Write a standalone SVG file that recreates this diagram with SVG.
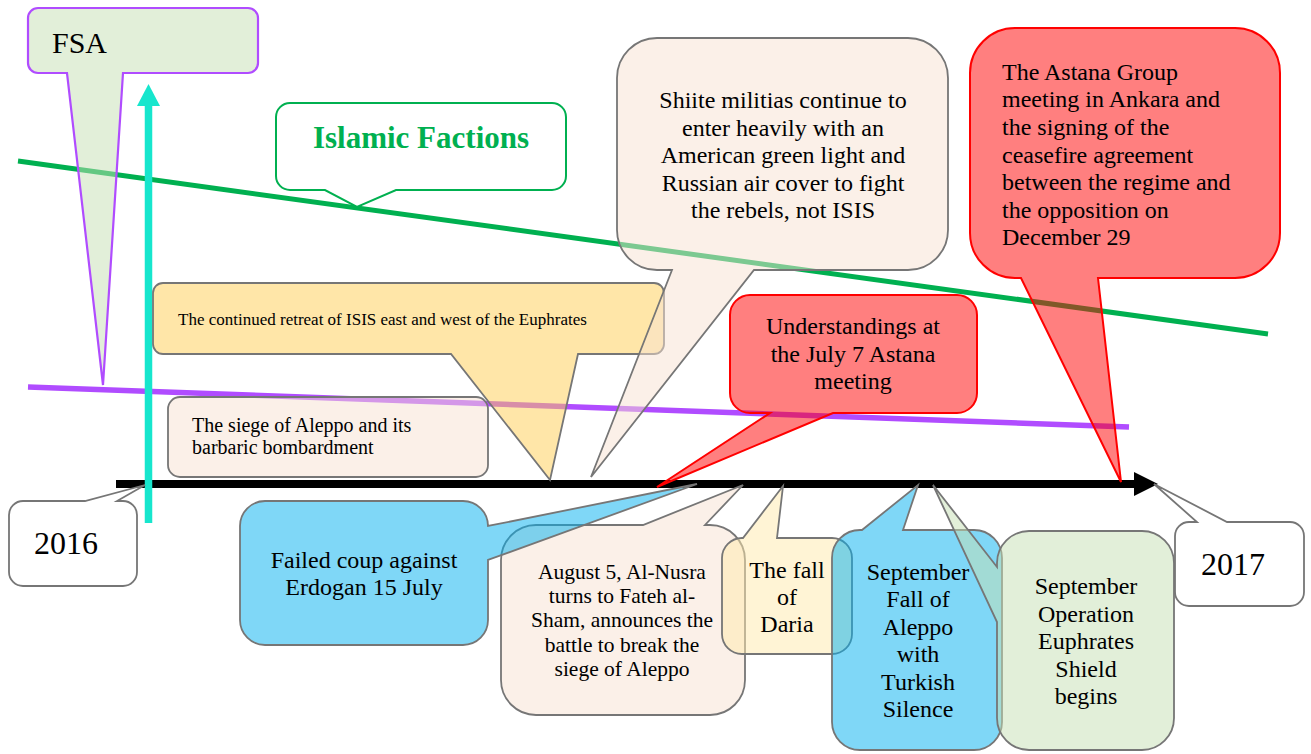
<svg xmlns="http://www.w3.org/2000/svg" width="1311" height="754" viewBox="0 0 1311 754">
<style>
.t{font-family:"Liberation Serif","Times New Roman",serif;fill:#000}
.c{fill-opacity:0.5;stroke:#767676;stroke-width:1.8;stroke-linejoin:miter}
.beige{fill:#F8E1D2}
.yellow{fill:#FFCD51}
.pale{fill:#FFE9AB}
.blue{fill:#00B0F0}
.green{fill:#C5E0B4}
.red{fill:#FF0000;stroke:#FF0000}
.white{fill:#FFFFFF;fill-opacity:1}
.s24{font-size:24px}
.mid{text-anchor:middle}
</style>
<defs>
<marker id="blackHead" viewBox="0 0 24 24" markerWidth="24" markerHeight="24" markerUnits="userSpaceOnUse" refX="0" refY="12" orient="auto">
<path d="M0,0 L24,12 L0,24 Z" fill="#000"/>
</marker>
<marker id="cyanHead" viewBox="0 0 22 23" markerWidth="22" markerHeight="23" markerUnits="userSpaceOnUse" refX="0" refY="11.5" orient="auto">
<path d="M0,0 L22,11.5 L0,23 Z" fill="#17E6CD"/>
</marker>
</defs>
<rect width="1311" height="754" fill="#FFFFFF"/>
<g id="connectors">
<line x1="18" y1="161" x2="1268" y2="334" stroke="#00B050" stroke-width="5"/>
<line x1="28" y1="387" x2="1129" y2="427" stroke="#B04CFF" stroke-width="5.5"/>
<line x1="116" y1="484" x2="1134" y2="484" stroke="#000" stroke-width="8" marker-end="url(#blackHead)"/>
<line x1="148.5" y1="523" x2="148.5" y2="106" stroke="#17E6CD" stroke-width="7.5" marker-end="url(#cyanHead)"/>
</g>
<g id="fsa">
<path class="c green" style="stroke:#B04CFF;stroke-width:2.2" d="M38,8 H248 A10,10 0 0 1 258,18 V63 A10,10 0 0 1 248,73 H123 L103,385 L67,73 H38 A10,10 0 0 1 28,63 V18 A10,10 0 0 1 38,8 Z"/>
<text class="t" x="52" y="53" font-size="30">FSA</text>
</g>
<g id="islamic-factions">
<path class="c white" style="stroke:#00B050;stroke-width:2" d="M290,103 H552 A14,14 0 0 1 566,117 V176 A14,14 0 0 1 552,190 H396 L357,207 L325,190 H290 A14,14 0 0 1 276,176 V117 A14,14 0 0 1 290,103 Z"/>
<text class="t mid" x="421" y="148" font-size="31" font-weight="bold" style="fill:#00B050">Islamic Factions</text>
</g>
<g id="isis-retreat">
<path class="c yellow" d="M163,283 H654 A10,10 0 0 1 664,293 V344 A10,10 0 0 1 654,354 H578 L550,480 L451,354 H163 A10,10 0 0 1 153,344 V293 A10,10 0 0 1 163,283 Z"/>
<text class="t" x="178" y="325" font-size="17">The continued retreat of ISIS east and west of the Euphrates</text>
</g>
<g id="siege-aleppo">
<rect class="c beige" x="168" y="397" width="320" height="80" rx="12"/>
<text class="t" x="192" y="432" font-size="20">The siege of Aleppo and its</text>
<text class="t" x="192" y="454" font-size="20">barbaric bombardment</text>
</g>
<g id="shiite-militias">
<path class="c beige" d="M657,38 H908 A40,40 0 0 1 948,78 V230 A40,40 0 0 1 908,270 H754 L591,477 L672,270 H657 A40,40 0 0 1 617,230 V78 A40,40 0 0 1 657,38 Z"/>
<text class="t s24 mid" x="783" y="108">Shiite militias continue to</text>
<text class="t s24 mid" x="783" y="136">enter heavily with an</text>
<text class="t s24 mid" x="783" y="163">American green light and</text>
<text class="t s24 mid" x="783" y="191">Russian air cover to fight</text>
<text class="t s24 mid" x="783" y="218">the rebels, not ISIS</text>
</g>
<g id="understandings">
<path class="c red" style="stroke-width:2" d="M750,295 H957 A20,20 0 0 1 977,315 V393 A20,20 0 0 1 957,413 H833 L657,487 L770,413 H750 A20,20 0 0 1 730,393 V315 A20,20 0 0 1 750,295 Z"/>
<text class="t s24 mid" x="853" y="334">Understandings at</text>
<text class="t s24 mid" x="853" y="362">the July 7 Astana</text>
<text class="t s24 mid" x="853" y="389">meeting</text>
</g>
<g id="astana-ankara">
<path class="c red" style="stroke-width:2" d="M1015,28 H1235 A45,45 0 0 1 1280,73 V233 A45,45 0 0 1 1235,278 H1098 L1121,482 L1021,278 H1015 A45,45 0 0 1 970,233 V73 A45,45 0 0 1 1015,28 Z"/>
<text class="t s24" x="1002" y="80">The Astana Group</text>
<text class="t s24" x="1002" y="107">meeting in Ankara and</text>
<text class="t s24" x="1002" y="135">the signing of the</text>
<text class="t s24" x="1002" y="163">ceasefire agreement</text>
<text class="t s24" x="1002" y="190">between the regime and</text>
<text class="t s24" x="1002" y="218">the opposition on</text>
<text class="t s24" x="1002" y="245">December 29</text>
</g>
<g id="year-2016">
<path class="c white" d="M23,501 H85 L145,485 L117,501 H123 A14,14 0 0 1 137,515 V572 A14,14 0 0 1 123,586 H23 A14,14 0 0 1 9,572 V515 A14,14 0 0 1 23,501 Z"/>
<text class="t mid" x="66" y="554" font-size="32">2016</text>
</g>
<g id="august-5">
<path class="c beige" d="M536,525 H643 L743,485 L705,525 H710 A35,35 0 0 1 745,560 V680 A35,35 0 0 1 710,715 H536 A35,35 0 0 1 501,680 V560 A35,35 0 0 1 536,525 Z"/>
<text class="t mid" x="622" y="579" font-size="21.5">August 5, Al-Nusra</text>
<text class="t mid" x="622" y="603" font-size="21.5">turns to Fateh al-</text>
<text class="t mid" x="622" y="627" font-size="21.5">Sham, announces the</text>
<text class="t mid" x="622" y="652" font-size="21.5">battle to break the</text>
<text class="t mid" x="622" y="676" font-size="21.5">siege of Aleppo</text>
</g>
<g id="failed-coup">
<path class="c blue" d="M265,501 H463 A25,25 0 0 1 488,526 L697,484 L488,560 V620 A25,25 0 0 1 463,645 H265 A25,25 0 0 1 240,620 V526 A25,25 0 0 1 265,501 Z"/>
<text class="t s24 mid" x="364" y="568">Failed coup against</text>
<text class="t s24 mid" x="364" y="595">Erdogan 15 July</text>
</g>
<g id="fall-of-daria">
<path class="c pale" d="M742,538 H743 L783,486 L777,538 H832 A20,20 0 0 1 852,558 V634 A20,20 0 0 1 832,654 H742 A20,20 0 0 1 722,634 V558 A20,20 0 0 1 742,538 Z"/>
<text class="t s24 mid" x="787" y="578">The fall</text>
<text class="t s24 mid" x="787" y="605">of</text>
<text class="t s24 mid" x="787" y="632">Daria</text>
</g>
<g id="fall-of-aleppo">
<path class="c blue" d="M860,530 H862 L918,485 L903,530 H974 A28,28 0 0 1 1002,558 V722 A28,28 0 0 1 974,750 H860 A28,28 0 0 1 832,722 V558 A28,28 0 0 1 860,530 Z"/>
<text class="t s24 mid" x="918" y="580">September</text>
<text class="t s24 mid" x="918" y="607">Fall of</text>
<text class="t s24 mid" x="918" y="635">Aleppo</text>
<text class="t s24 mid" x="918" y="662">with</text>
<text class="t s24 mid" x="918" y="690">Turkish</text>
<text class="t s24 mid" x="918" y="717">Silence</text>
</g>
<g id="euphrates-shield">
<path class="c green" d="M1029,531 H1142 A32,32 0 0 1 1174,563 V718 A32,32 0 0 1 1142,750 H1029 A32,32 0 0 1 997,718 V622 L933,485 L997,567 V563 A32,32 0 0 1 1029,531 Z"/>
<text class="t s24 mid" x="1086" y="594">September</text>
<text class="t s24 mid" x="1086" y="622">Operation</text>
<text class="t s24 mid" x="1086" y="649">Euphrates</text>
<text class="t s24 mid" x="1086" y="677">Shield</text>
<text class="t s24 mid" x="1086" y="704">begins</text>
</g>
<g id="year-2017">
<path class="c white" d="M1189,522 H1197 L1154,484 L1227,522 H1290 A14,14 0 0 1 1304,536 V592 A14,14 0 0 1 1290,606 H1189 A14,14 0 0 1 1175,592 V536 A14,14 0 0 1 1189,522 Z"/>
<text class="t mid" x="1233" y="575" font-size="32">2017</text>
</g>
</svg>
